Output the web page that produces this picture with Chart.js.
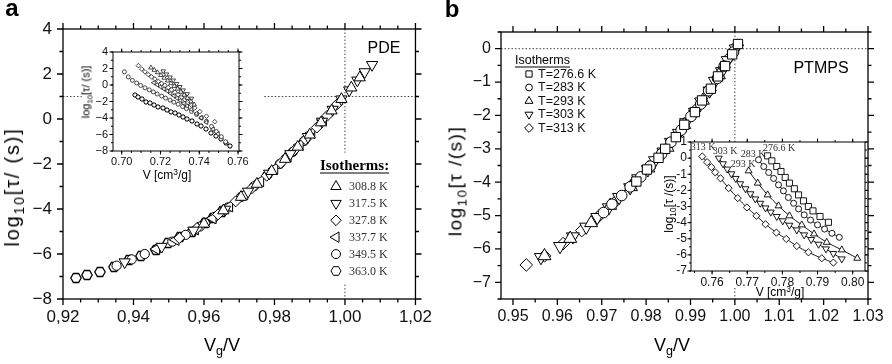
<!DOCTYPE html>
<html>
<head>
<meta charset="utf-8">
<script src="https://cdn.jsdelivr.net/npm/chart.js@4.4.0/dist/chart.umd.min.js"></script>
<style>
  html, body { margin: 0; padding: 0; background: #fff; }
  #fig { position: relative; width: 892px; height: 364px; overflow: hidden;
         font-family: "Liberation Sans", Arial, sans-serif; color: #000; }
  #fig canvas { position: absolute; }
  .t { position: absolute; white-space: nowrap; line-height: 1; transform: translate(-50%, -50%); }
  .rot { transform: translate(-50%, -50%) rotate(-90deg); }
  .t sub { font-size: 70%; vertical-align: baseline; position: relative; top: 0.35em; }
  .t sup { font-size: 70%; vertical-align: baseline; position: relative; top: -0.45em; }
  .serif { font-family: "Liberation Serif", "Times New Roman", serif; color: #333; }
</style>
</head>
<body>
<div id="fig">
  <canvas id="mainA" width="440" height="364" style="left:0;top:0"></canvas>
  <canvas id="insetA" width="190" height="145" style="left:80px;top:40px"></canvas>
  <canvas id="mainB" width="447" height="364" style="left:445px;top:0"></canvas>
  <canvas id="insetB" width="225" height="170" style="left:655px;top:130px"></canvas>

  <div class="t" style="left:12px;top:8px;font-size:24px;font-weight:bold">a</div>
  <div class="t" style="left:452px;top:9px;font-size:24px;font-weight:bold">b</div>

  <div class="t" style="left:384px;top:48px;font-size:16px">PDE</div>
  <div class="t" style="left:821px;top:68px;font-size:16px">PTMPS</div>

  <div class="t rot" style="left:12px;top:187px;font-size:20px;letter-spacing:1.8px">log<sub>10</sub>[τ/ (s)]</div>
  <div class="t" style="left:222px;top:345px;font-size:18px">V<sub>g</sub>/V</div>
  <div class="t rot" style="left:455px;top:181px;font-size:19px;letter-spacing:1.5px">log<sub>10</sub>[τ /(s)]</div>
  <div class="t" style="left:672px;top:345px;font-size:18px">V<sub>g</sub>/V</div>

  <div class="t rot" style="left:86px;top:92px;font-size:11px">log<sub>10</sub>[τ/ (s)]</div>
  <div class="t" style="left:167px;top:175px;font-size:12px">V [cm<sup>3</sup>/g]</div>
  <div class="t rot" style="left:669px;top:204px;font-size:12px">log<sub>10</sub>[τ /(s)]</div>
  <div class="t" style="left:780px;top:292px;font-size:12px">V [cm<sup>3</sup>/g]</div>

  <div class="t serif" style="left:703px;top:147px;font-size:10px">313 K</div>
  <div class="t serif" style="left:725px;top:151px;font-size:10px">303 K</div>
  <div class="t serif" style="left:753px;top:154px;font-size:10px">283 K</div>
  <div class="t serif" style="left:779px;top:148px;font-size:10px">276.6 K</div>
  <div class="t serif" style="left:743px;top:164px;font-size:10px">293 K</div>
</div>

<script>
// ---------------- panel a (PDE) ----------------
const isoA = ['308.8 K', '317.5 K', '327.8 K', '337.7 K', '349.5 K', '363.0 K'];

// master curve: log10 tau vs Vg/V
const a308x = [0.9600,0.9655,0.9705,0.9750,0.9792,0.9830,0.9866,0.9900,0.9932,0.9962,0.9990,1.0018,1.0042];
const a308y = [-4.66,-4.07,-3.47,-2.89,-2.32,-1.78,-1.24,-0.70,-0.16,0.37,0.88,1.39,1.84];
const a317x = [0.9375,0.9480,0.9570,0.9660,0.9725,0.9785,0.9845,0.9895,0.9935,0.9965,0.9990,1.0012,1.0035,1.0056,1.0077];
const a317y = [-6.36,-5.67,-4.95,-4.02,-3.22,-2.42,-1.55,-0.79,-0.11,0.42,0.88,1.28,1.72,2.09,2.41];
const a327x = [0.9530,0.9580,0.9640,0.9690,0.9735,0.9778,0.9818,0.9855,0.9888,0.9920,0.9950,0.9978];
const a327y = [-5.29,-4.85,-4.24,-3.66,-3.09,-2.52,-1.96,-1.41,-0.91,-0.38,0.15,0.66];
const a337x = [0.9465,0.9520,0.9575,0.9625,0.9672,0.9715,0.9760,0.9800,0.9838,0.9872,0.9905,0.9938];
const a337y = [-5.78,-5.37,-4.90,-4.41,-3.88,-3.34,-2.76,-2.21,-1.66,-1.15,-0.62,-0.05];
const a349x = [0.9352,0.9395,0.9432,0.9470,0.9510,0.9548,0.9588,0.9630,0.9668,0.9705,0.9742,0.9780,0.9815,0.9852,0.9884];
const a349y = [-6.52,-6.24,-6.00,-5.74,-5.45,-5.15,-4.78,-4.35,-3.93,-3.47,-2.99,-2.49,-2.00,-1.46,-0.98];
const a363x = [0.9238,0.9268,0.9305,0.9345,0.9388,0.9421,0.9463,0.9498,0.9533,0.9566,0.9603,0.9627,0.9650];
const a363y = [-7.08,-6.93,-6.79,-6.56,-6.27,-6.09,-5.82,-5.53,-5.23,-5.00,-4.62,-4.41,-4.13];

// inset: log10 tau vs V [cm3/g]
const ia308x = [0.7151,0.7168,0.7185,0.7202,0.7219,0.7237,0.7254,0.7271,0.7288,0.7305,0.7322,0.7339,0.7357,0.7374];
const ia308y = [2.10,1.81,1.52,1.19,0.86,0.52,0.19,-0.14,-0.47,-0.84,-1.21,-1.59,-2.00,-2.38];
const ia317x = [0.7214,0.7231,0.7249,0.7266,0.7283,0.7300,0.7317,0.7338,0.7360];
const ia317y = [1.68,1.31,0.94,0.57,0.15,-0.22,-0.63,-1.09,-1.63];
const ia327x = [0.7086,0.7103,0.7120,0.7137,0.7154,0.7171,0.7189,0.7206,0.7223,0.7240,0.7257,0.7274,0.7291,0.7309,0.7326,0.7343,0.7360,0.7377,0.7403,0.7437,0.7480];
const ia327y = [2.35,1.93,1.60,1.27,0.98,0.73,0.44,0.19,-0.05,-0.30,-0.59,-0.88,-1.17,-1.46,-1.79,-2.12,-2.45,-2.78,-3.22,-3.78,-4.45];
const ia337x = [0.7166,0.7183,0.7201,0.7218,0.7235,0.7252,0.7269,0.7286,0.7303,0.7321,0.7338,0.7360,0.7386,0.7411,0.7437,0.7471,0.7497];
const ia337y = [0.28,0.03,-0.22,-0.47,-0.72,-1.01,-1.30,-1.59,-1.87,-2.21,-2.54,-2.95,-3.45,-3.98,-4.52,-5.35,-5.93];
const ia349x = [0.7014,0.7034,0.7055,0.7077,0.7098,0.7120,0.7142,0.7163,0.7183,0.7206,0.7226,0.7249,0.7269,0.7291,0.7314,0.7334,0.7360,0.7386,0.7411,0.7437,0.7463,0.7488,0.7514,0.7536];
const ia349y = [1.60,0.98,0.57,0.24,-0.05,-0.34,-0.59,-0.84,-1.09,-1.34,-1.59,-1.83,-2.08,-2.33,-2.62,-2.87,-3.20,-3.57,-3.98,-4.40,-5.02,-5.64,-6.26,-6.88];
const ia363x = [0.7069,0.7086,0.7103,0.7123,0.7146,0.7166,0.7189,0.7211,0.7231,0.7252,0.7274,0.7297,0.7317,0.7338,0.7360,0.7386,0.7411,0.7437,0.7463,0.7488,0.7514,0.7540,0.7560];
const ia363y = [-1.21,-1.50,-1.75,-2.00,-2.21,-2.41,-2.62,-2.83,-3.03,-3.24,-3.45,-3.65,-3.86,-4.11,-4.36,-4.69,-5.02,-5.35,-5.76,-6.18,-6.59,-7.00,-7.38];

const ticksAx = [0.92, 0.94, 0.96, 0.98, 1.00, 1.02];
const ticksAy = [-8, -6, -4, -2, 0, 2, 4];
const ticksIAx = [0.70, 0.72, 0.74, 0.76];
const ticksIAy = [-8, -6, -4, -2, 0, 2, 4];

// dotted guides (data units): y = 1 and Vg/V = 1, broken where inset / legend sit
const guideAH = [[0.92, 0.9253], [0.9771, 1.02]];
const guideAV = [[4, -1.5], [-7.36, -8]];

// ---------------- panel b (PTMPS) ----------------
const isoB = ['T=276.6 K', 'T=283 K', 'T=293 K', 'T=303 K', 'T=313 K'];

// inset: log10 tau vs V [cm3/g]
const ib276x = [0.7758,0.7770,0.7784,0.7796,0.7808,0.7820,0.7834,0.7846,0.7860,0.7874,0.7887,0.7907,0.7931];
const ib276y = [0.14,-0.17,-0.52,-0.83,-1.20,-1.55,-1.90,-2.28,-2.65,-3.00,-3.27,-3.62,-3.98];
const ib283x = [0.7732,0.7747,0.7761,0.7775,0.7789,0.7803,0.7817,0.7832,0.7846,0.7862,0.7880,0.7900,0.7920,0.7941,0.7962];
const ib283y = [-0.10,-0.52,-0.89,-1.26,-1.66,-2.03,-2.44,-2.80,-3.15,-3.52,-3.84,-4.14,-4.40,-4.66,-4.91];
const ib293x = [0.7704,0.7730,0.7758,0.7789,0.7820,0.7855,0.7890,0.7926,0.7969,0.8013];
const ib293y = [-0.79,-1.55,-2.28,-2.96,-3.58,-4.14,-4.70,-5.22,-5.69,-6.21];
const ib303x = [0.7619,0.7631,0.7643,0.7655,0.7667,0.7680,0.7695,0.7709,0.7723,0.7737,0.7752,0.7767,0.7784,0.7801,0.7820,0.7841,0.7862,0.7882,0.7903,0.7924,0.7945,0.7969];
const ib303y = [0.00,-0.35,-0.68,-0.97,-1.26,-1.59,-1.90,-2.21,-2.53,-2.80,-3.09,-3.35,-3.62,-3.89,-4.16,-4.45,-4.76,-5.05,-5.34,-5.63,-5.92,-6.25];
const ib313x = [0.7572,0.7586,0.7598,0.7609,0.7624,0.7647,0.7673,0.7699,0.7726,0.7752,0.7783,0.7811,0.7841,0.7874,0.7912,0.7945];
const ib313y = [0.10,-0.25,-0.56,-0.88,-1.25,-1.86,-2.48,-3.06,-3.58,-4.10,-4.62,-5.01,-5.45,-5.84,-6.21,-6.48];

// master curve: same tau values vs Vg/V
const b276x = [1.0007,0.9994,0.9978,0.9962,0.9946,0.9926,0.9910,0.9886,0.9867,0.9843,0.9828,0.9802,0.9778];
const b283x = [0.9997,0.9976,0.9961,0.9941,0.9923,0.9901,0.9879,0.9856,0.9835,0.9809,0.9788,0.9764,0.9745,0.9723,0.9704];
const b293x = [0.9964,0.9928,0.9886,0.9848,0.9805,0.9766,0.9719,0.9676,0.9629,0.9571];
const b303x = [1.0002,0.9984,0.9971,0.9955,0.9943,0.9924,0.9910,0.9890,0.9874,0.9856,0.9839,0.9820,0.9804,0.9782,0.9764,0.9739,0.9716,0.9690,0.9665,0.9635,0.9606,0.9563];
const b313x = [1.0006,0.9989,0.9976,0.9960,0.9944,0.9910,0.9877,0.9839,0.9807,0.9767,0.9728,0.9694,0.9655,0.9613,0.9571,0.9530];

const ticksBx = [0.95, 0.96, 0.97, 0.98, 0.99, 1.00, 1.01, 1.02, 1.03];
const ticksBy = [-7, -6, -5, -4, -3, -2, -1, 0];
const ticksIBx = [0.76, 0.77, 0.78, 0.79, 0.80];
const ticksIBy = [-7, -6, -5, -4, -3, -2, -1, 0, 1];

const guideBH = [[0.9473, 1.03]];
const guideBV = [[0.5, -2.8], [-7.17, -7.5]];

// ---------------- helpers ----------------
function makeHex(r, lw) {
  const c = document.createElement('canvas');
  const s = Math.ceil(2 * r + lw + 2);
  c.width = s; c.height = s;
  const g = c.getContext('2d');
  g.translate(s / 2, s / 2);
  g.beginPath();
  for (let k = 0; k < 6; k++) {
    const t = Math.PI / 3 * k;
    g.lineTo(r * Math.cos(t), r * Math.sin(t));
  }
  g.closePath();
  g.fillStyle = '#fff'; g.fill();
  g.lineWidth = lw; g.strokeStyle = '#000'; g.stroke();
  return c;
}
const hexBig = makeHex(5.2, 1.3);
const hexSmall = makeHex(2.3, 1);

function pts(xs, ys) { return xs.map((x, i) => ({ x: x, y: ys[i] })); }

function marks(xs, ys, style, r, rot, bw, line) {
  return {
    data: pts(xs, ys),
    pointStyle: style, pointRadius: r, pointRotation: rot || 0,
    pointBorderWidth: bw || 1, pointBackgroundColor: '#fff', pointBorderColor: '#000',
    showLine: !!line, borderColor: '#000', borderWidth: 0.9,
    cubicInterpolationMode: 'monotone', fill: false
  };
}

function guides(segs, fixed, horizontal) {
  return segs.map(s => ({
    data: horizontal ? [{ x: s[0], y: fixed }, { x: s[1], y: fixed }]
                     : [{ x: fixed, y: s[0] }, { x: fixed, y: s[1] }],
    showLine: true, pointRadius: 0, borderColor: '#444', borderWidth: 1,
    borderDash: [1.5, 2], order: 10
  }));
}

const minusFmt = v => (v < 0 ? '\u2212' + Math.abs(v) : String(v));
const hyphenFmt = v => String(v);

function axis(min, max, ticks, size, fmt, font, pad) {
  return {
    type: 'linear', min: min, max: max,
    afterBuildTicks: s => { s.ticks = ticks.map(v => ({ value: v })); },
    afterFit: s => { if (s.isHorizontal()) s.height = size; else s.width = size; },
    grid: { display: false, drawTicks: false },
    border: { display: false },
    ticks: { callback: fmt, font: { family: 'Liberation Sans', size: font }, color: '#111',
             padding: pad, maxRotation: 0, autoSkip: false }
  };
}

// frame with outward major/minor ticks on all four sides
const framePlugin = {
  id: 'frame',
  beforeDatasetsDraw(chart) { chart.ctx.imageSmoothingEnabled = false; },
  afterDatasetsDraw(chart) { chart.ctx.imageSmoothingEnabled = true; },
  afterDraw(chart, args, o) {
    const ctx = chart.ctx, a = chart.chartArea;
    const sx = chart.scales.x, sy = chart.scales.y;
    ctx.save();
    ctx.strokeStyle = '#000';
    ctx.lineWidth = o.lw;
    ctx.strokeRect(a.left, a.top, a.right - a.left, a.bottom - a.top);
    ctx.beginPath();
    const xt = (v, len) => {
      const p = sx.getPixelForValue(v);
      ctx.moveTo(p, a.bottom); ctx.lineTo(p, a.bottom + len);
      ctx.moveTo(p, a.top); ctx.lineTo(p, a.top - len);
    };
    const yt = (v, len) => {
      const p = sy.getPixelForValue(v);
      ctx.moveTo(a.left, p); ctx.lineTo(a.left - len, p);
      ctx.moveTo(a.right, p); ctx.lineTo(a.right + len, p);
    };
    for (let v = Math.ceil(sx.min / o.xMinor - 1e-6) * o.xMinor; v <= sx.max + 1e-9; v += o.xMinor) xt(v, o.minor);
    for (let v = Math.ceil(sy.min / o.yMinor - 1e-6) * o.yMinor; v <= sy.max + 1e-9; v += o.yMinor) yt(v, o.minor);
    sx.ticks.forEach(t => xt(t.value, o.major));
    sy.ticks.forEach(t => yt(t.value, o.major));
    ctx.stroke();
    ctx.restore();
  }
};

function drawMark(ctx, m, x, y) {
  ctx.save();
  ctx.fillStyle = '#fff'; ctx.strokeStyle = '#000'; ctx.lineWidth = 1;
  if (m.style === 'hex') {
    ctx.beginPath();
    for (let k = 0; k < 6; k++) {
      const t = Math.PI / 3 * k;
      ctx.lineTo(x + m.r * Math.cos(t), y + m.r * Math.sin(t));
    }
    ctx.closePath(); ctx.fill(); ctx.stroke();
  } else if (Chart.helpers && Chart.helpers.drawPoint) {
    Chart.helpers.drawPoint(ctx, { pointStyle: m.style, rotation: m.rot || 0, radius: m.r, borderWidth: 1 }, x, y);
  } else {
    ctx.beginPath(); ctx.arc(x, y, m.r, 0, Math.PI * 2); ctx.fill(); ctx.stroke();
  }
  ctx.restore();
}

// hand-placed isotherm legend
const legendPlugin = {
  id: 'isoLegend',
  afterDraw(chart, args, o) {
    if (!o.items) return;
    const ctx = chart.ctx;
    ctx.save();
    ctx.textBaseline = 'middle';
    ctx.fillStyle = '#000';
    ctx.font = o.titleFont;
    ctx.fillText(o.title, o.x, o.y);
    const w = o.ulWidth || ctx.measureText(o.title).width;
    ctx.strokeStyle = '#000'; ctx.lineWidth = 1;
    ctx.beginPath(); ctx.moveTo(o.x, o.y + o.ul); ctx.lineTo(o.x + w, o.y + o.ul); ctx.stroke();
    o.items.forEach((it, i) => {
      const y = o.y0 + i * o.dy;
      drawMark(ctx, it, o.mx, y);
      ctx.font = o.font; ctx.fillStyle = o.color;
      ctx.fillText(it.label, o.tx, y + 0.5);
    });
    ctx.restore();
  }
};

function makeChart(id, datasets, x, y, padding, frame, legend) {
  return new Chart(document.getElementById(id), {
    type: 'scatter',
    data: { datasets: datasets },
    options: {
      responsive: false, animation: false, events: [],
      layout: { padding: padding },
      scales: { x: x, y: y },
      plugins: { legend: { display: false }, tooltip: { enabled: false },
                 frame: frame, isoLegend: legend || {} }
    },
    plugins: [framePlugin, legendPlugin]
  });
}

// ---------------- panel a charts ----------------
makeChart('mainA', [
  marks(a308x, a308y, 'triangle', 6.5),
  marks(a317x, a317y, 'triangle', 6.5, 180),
  marks(a327x, a327y, 'rectRot', 5.5),
  marks(a337x, a337y, 'triangle', 6.5, 270),
  marks(a349x, a349y, 'circle', 4.6),
  marks(a363x, a363y, hexBig, 5),
  ...guides(guideAH, 1, true),
  ...guides(guideAV, 1.0, false)
],
  axis(0.92, 1.02, ticksAx, 65, v => v.toFixed(2).replace('.', ','), 17, 8),
  axis(-8, 4, ticksAy, 63, minusFmt, 17, 11),
  { left: 0, top: 29, right: 22, bottom: 0 },
  { lw: 1.3, xMinor: 0.005, yMinor: 1, major: 6, minor: 3.5 },
  { title: 'Isotherms:', titleFont: 'bold 15px "Liberation Serif"', x: 320, y: 166, ul: 7,
    font: '12px "Liberation Serif"', color: '#333', mx: 336, tx: 349, y0: 186.5, dy: 16.9,
    items: [
      { label: isoA[0], style: 'triangle', r: 6 },
      { label: isoA[1], style: 'triangle', r: 6, rot: 180 },
      { label: isoA[2], style: 'rectRot', r: 5.3 },
      { label: isoA[3], style: 'triangle', r: 6, rot: 270 },
      { label: isoA[4], style: 'circle', r: 4.5 },
      { label: isoA[5], style: 'hex', r: 5 }
    ] }
);

makeChart('insetA', [
  marks(ia308x, ia308y, 'triangle', 2.6, 0, 0.7),
  marks(ia317x, ia317y, 'triangle', 2.6, 180, 0.7),
  marks(ia327x, ia327y, 'rectRot', 2.3, 0, 0.7),
  marks(ia337x, ia337y, 'triangle', 2.6, 270, 0.7),
  marks(ia349x, ia349y, 'circle', 2, 0, 0.7),
  marks(ia363x, ia363y, hexSmall, 2.2)
],
  axis(0.6955, 0.7605, ticksIAx, 34, v => v.toFixed(2), 11, 4),
  axis(-8, 4, ticksIAy, 33, minusFmt, 11, 5),
  { left: 0, top: 12, right: 31, bottom: 0 },
  { lw: 1, xMinor: 0.005, yMinor: 1, major: 3.5, minor: 2 }
);

// ---------------- panel b charts ----------------
makeChart('mainB', [
  marks(b276x, ib276y, 'rect', 6.6),
  marks(b283x, ib283y, 'circle', 5.3),
  marks(b293x, ib293y, 'triangle', 7.5),
  marks(b303x, ib303y, 'triangle', 7.5, 180),
  marks(b313x, ib313y, 'rectRot', 6.3),
  ...guides(guideBH, 0, true),
  ...guides(guideBV, 1.0, false)
],
  axis(0.9473, 1.03, ticksBx, 65, v => v.toFixed(2), 16, 8),
  axis(-7.5, 0.5, ticksBy, 56, minusFmt, 16, 10),
  { left: 0, top: 32, right: 24, bottom: 0 },
  { lw: 1.3, xMinor: 0.005, yMinor: 0.5, major: 6, minor: 3.5 },
  { title: 'Isotherms', titleFont: '12.5px "Liberation Sans"', x: 70, y: 61, ul: 6, ulWidth: 55,
    font: '12.5px "Liberation Sans"', color: '#111', mx: 84, tx: 93, y0: 74, dy: 13.5,
    items: [
      { label: isoB[0], style: 'rect', r: 4.4 },
      { label: isoB[1], style: 'circle', r: 3.4 },
      { label: isoB[2], style: 'triangle', r: 4.6 },
      { label: isoB[3], style: 'triangle', r: 4.6, rot: 180 },
      { label: isoB[4], style: 'rectRot', r: 4.4 }
    ] }
);

makeChart('insetB', [
  marks(ib276x, ib276y, 'rect', 4.3, 0, 0.9, true),
  marks(ib283x, ib283y, 'circle', 3, 0, 0.9, true),
  marks(ib293x, ib293y, 'triangle', 4, 0, 0.9, true),
  marks(ib303x, ib303y, 'triangle', 4, 180, 0.9, true),
  marks(ib313x, ib313y, 'rectRot', 3.6, 0, 0.9, true)
],
  axis(0.754, 0.8035, ticksIBx, 29, v => v.toFixed(2), 12, 4),
  axis(-7, 1, ticksIBy, 36, hyphenFmt, 12, 4),
  { left: 0, top: 12, right: 15, bottom: 0 },
  { lw: 1, xMinor: 0.005, yMinor: 0.5, major: 3.5, minor: 2 }
);
</script>
</body>
</html>
